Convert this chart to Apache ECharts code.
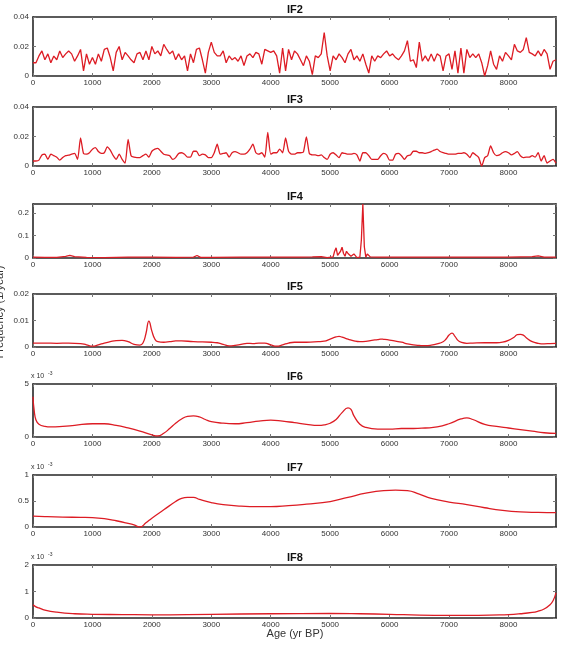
<!DOCTYPE html>
<html>
<head>
<meta charset="utf-8">
<script src="https://cdn.jsdelivr.net/npm/echarts@6/dist/echarts.min.js"></script>
<style>
  html, body { margin: 0; padding: 0; background: #fff; }
  #chart { width: 567px; height: 653px; }
</style>
</head>
<body>
<div id="chart"></div>
<script>
// sample grid of IF2 / IF3 (every 50 yr, 0..8800)
const ages50 = Array.from({ length: 177 }, (_, i) => i * 50);

const xTicks = [0, 1000, 2000, 3000, 4000, 5000, 6000, 7000, 8000];

// IF2 - noisy high frequency component
const if2Values = [
  0.009, 0.009, 0.0136, 0.017, 0.011, 0.015, 0.009, 0.0135, 0.011, 0.017, 0.0125, 0.015, 0.017, 0.015, 0.010, 0.0136, 0.018, 0.0035, 0.015, 0.008,
  0.0125, 0.008, 0.015, 0.010, 0.018, 0.019, 0.0125, 0.0035, 0.016, 0.020, 0.011, 0.016, 0.0136, 0.011, 0.009, 0.015, 0.016, 0.011, 0.017, 0.011,
  0.020, 0.015, 0.017, 0.0136, 0.0215, 0.018, 0.015, 0.017, 0.011, 0.015, 0.011, 0.0136, 0.0035, 0.015, 0.009, 0.018, 0.019, 0.011, 0.002, 0.016,
  0.023, 0.016, 0.0136, 0.0136, 0.017, 0.009, 0.0136, 0.011, 0.0125, 0.010, 0.0136, 0.007, 0.0136, 0.015, 0.0125, 0.016, 0.015, 0.008, 0.018, 0.017,
  0.016, 0.017, 0.0136, 0.002, 0.019, 0.0035, 0.018, 0.011, 0.017, 0.015, 0.011, 0.007, 0.0136, 0.010, 0.001, 0.0136, 0.0125, 0.015, 0.0295, 0.0136,
  0.0035, 0.0136, 0.011, 0.015, 0.0125, 0.009, 0.015, 0.018, 0.011, 0.0136, 0.010, 0.015, 0.008, 0.002, 0.0136, 0.010, 0.0136, 0.0125, 0.015, 0.017,
  0.0136, 0.015, 0.0125, 0.011, 0.0136, 0.017, 0.024, 0.010, 0.011, 0.0057, 0.023, 0.010, 0.0136, 0.010, 0.015, 0.010, 0.015, 0.0136, 0.0035, 0.0136,
  0.015, 0.0045, 0.017, 0.002, 0.019, 0.002, 0.018, 0.0125, 0.015, 0.0125, 0.015, 0.009, 0.0, 0.007, 0.017, 0.008, 0.0045, 0.0136, 0.010, 0.016,
  0.0136, 0.011, 0.0215, 0.017, 0.016, 0.018, 0.026, 0.016, 0.015, 0.0136, 0.017, 0.0136, 0.018, 0.015, 0.0045, 0.010, 0.011
];

// IF3
const if3Values = [
  0.0034, 0.0034, 0.004, 0.0075, 0.008, 0.0045, 0.008, 0.007, 0.006, 0.004, 0.0057, 0.007, 0.0073, 0.008, 0.0085, 0.0045, 0.019, 0.0085, 0.008, 0.009,
  0.0114, 0.0125, 0.0098, 0.0085, 0.009, 0.013, 0.0107, 0.007, 0.0045, 0.008, 0.0045, 0.002, 0.018, 0.007, 0.006, 0.0057, 0.0057, 0.007, 0.008, 0.006,
  0.010, 0.0114, 0.012, 0.010, 0.008, 0.0075, 0.007, 0.0045, 0.0057, 0.0085, 0.009, 0.008, 0.006, 0.006, 0.010, 0.010, 0.007, 0.008, 0.0075, 0.0057,
  0.0057, 0.009, 0.0148, 0.008, 0.0085, 0.009, 0.006, 0.009, 0.0098, 0.009, 0.008, 0.008, 0.009, 0.0114, 0.0148, 0.009, 0.008, 0.009, 0.006, 0.0227,
  0.008, 0.009, 0.009, 0.0114, 0.009, 0.019, 0.010, 0.008, 0.008, 0.009, 0.009, 0.0095, 0.0198, 0.0085, 0.0075, 0.0075, 0.007, 0.0075, 0.0057, 0.0045,
  0.008, 0.009, 0.0075, 0.0057, 0.009, 0.0085, 0.008, 0.008, 0.0085, 0.0075, 0.0034, 0.009, 0.009, 0.007, 0.0045, 0.0045, 0.0045, 0.007, 0.0085, 0.0075,
  0.004, 0.004, 0.008, 0.0085, 0.007, 0.0045, 0.007, 0.0075, 0.010, 0.010, 0.009, 0.009, 0.0085, 0.009, 0.0098, 0.0107, 0.0114, 0.0098, 0.009, 0.0085,
  0.008, 0.008, 0.008, 0.0085, 0.0085, 0.009, 0.008, 0.0057, 0.009, 0.0075, 0.0057, 0.0, 0.0057, 0.007, 0.0136, 0.009, 0.007, 0.0075, 0.009, 0.0098,
  0.009, 0.0075, 0.0085, 0.0098, 0.007, 0.0057, 0.006, 0.006, 0.007, 0.006, 0.009, 0.0034, 0.007, 0.002, 0.0034, 0.0045, 0.002
];

// IF4 - flat with a burst around 5000-5700 yr
const if4Ages = [
  0, 200, 400, 550, 620, 700, 900, 1200, 1600, 2000, 2400, 2700, 2760, 2820, 3000, 3500, 4000, 4500, 4700, 4850, 4950,
  5050, 5075, 5100, 5125, 5150, 5175, 5200, 5225, 5250, 5275, 5300, 5325, 5350, 5375, 5400, 5425, 5450, 5475, 5500,
  5525, 5550, 5575, 5600, 5625, 5650, 5675, 5700, 5800, 6000, 6500, 7000, 7500, 8000, 8400, 8500, 8600, 8800
];
const if4Values = [
  0.004, 0.003, 0.003, 0.007, 0.012, 0.006, 0.003, 0.002, 0.004, 0.004, 0.003, 0.004, 0.011, 0.003, 0.003, 0.004, 0.004, 0.004, 0.005, 0.006, 0.002,
  0.005, 0.03, 0.045, 0.012, 0.005, 0.03, 0.048, 0.02, 0.008, 0.03, 0.02, 0.028, 0.008, 0.004, 0.018, 0.01, 0.002, 0.003, 0.004,
  0.08, 0.24, 0.05, 0.004, 0.018, 0.02, 0.005, 0.004, 0.004, 0.004, 0.004, 0.004, 0.004, 0.004, 0.006, 0.009, 0.004, 0.004
];

// IF5
const if5Ages = [
  0, 200, 400, 600, 800, 900, 1000, 1100, 1200, 1300, 1400, 1500, 1600, 1700, 1800, 1850, 1900, 1950, 2000, 2050, 2100,
  2200, 2300, 2400, 2500, 2700, 3000, 3100, 3200, 3300, 3400, 3500, 3600, 3700, 3800, 3900, 4000, 4100, 4200, 4300,
  4400, 4600, 4800, 4900, 5000, 5100, 5150, 5200, 5300, 5400, 5500, 5600, 5700, 5800, 5850, 5900, 6000, 6100, 6200,
  6300, 6400, 6500, 6600, 6700, 6800, 6900, 6950, 7000, 7050, 7100, 7150, 7200, 7300, 7400, 7600, 7800, 7900, 8000,
  8100, 8150, 8200, 8250, 8300, 8400, 8500, 8600, 8700, 8800
];
const if5Values = [
  0.0015, 0.0015, 0.0014, 0.0015, 0.0013, 0.0008, 0.0003, 0.0008, 0.0015, 0.002, 0.0024, 0.0025, 0.002, 0.001, 0.0007, 0.0015, 0.005, 0.0098, 0.006, 0.003, 0.002,
  0.0018, 0.002, 0.0023, 0.0023, 0.002, 0.0018, 0.0016, 0.001, 0.0004, 0.0006, 0.001, 0.0014, 0.0013, 0.0015, 0.0015, 0.0008, 0.0003, 0.0008, 0.0015,
  0.0018, 0.0018, 0.002, 0.0022, 0.003, 0.0038, 0.004, 0.0037, 0.003, 0.0023, 0.002, 0.0021, 0.0025, 0.0028, 0.003, 0.0029, 0.0026, 0.0022, 0.0018,
  0.0012, 0.0008, 0.0006, 0.0005, 0.0007, 0.0012, 0.002, 0.003, 0.0045, 0.0052, 0.004, 0.0025, 0.0018, 0.0014, 0.0015, 0.0016, 0.0016, 0.0018, 0.0025,
  0.0038, 0.0047, 0.0048, 0.0045, 0.0035, 0.002, 0.0014, 0.0012, 0.0013, 0.0014
];

// IF6 (x 10^-3)
const if6Ages = [
  0, 20, 50, 100, 200, 300, 500, 700, 1000, 1200, 1400, 1600, 1800, 2000, 2100, 2200, 2300, 2400, 2500, 2600, 2700,
  2800, 2900, 3000, 3200, 3400, 3600, 3800, 4000, 4200, 4400, 4600, 4800, 4900, 5000, 5100, 5200, 5300, 5350, 5400,
  5500, 5600, 5800, 6000, 6200, 6400, 6600, 6800, 7000, 7200, 7300, 7400, 7600, 7800, 8000, 8200, 8400, 8600, 8800
];
const if6Values = [
  3.8, 2.5, 1.6, 1.2, 1.0, 0.95, 1.0, 1.1, 1.25, 1.25, 1.1, 0.85, 0.55, 0.2, 0.1, 0.35, 0.8, 1.3, 1.7, 1.95, 2.0,
  1.9, 1.65, 1.45, 1.3, 1.25, 1.35, 1.5, 1.6, 1.5, 1.35, 1.2, 1.1, 1.15, 1.3, 1.65, 2.3, 2.75, 2.6, 2.0,
  1.2, 0.9, 0.75, 0.75, 0.8, 0.8, 0.85, 0.95, 1.25, 1.7, 1.8, 1.65, 1.2, 1.0, 0.85, 0.7, 0.55, 0.4, 0.35
];

// IF7 (x 10^-3)
const if7Ages = [
  0, 200, 500, 800, 1000, 1200, 1400, 1600, 1700, 1800, 1900, 2000, 2200, 2400, 2500, 2600, 2700, 2800, 3000, 3200,
  3500, 3800, 4000, 4300, 4600, 5000, 5300, 5600, 5900, 6100, 6300, 6500, 6700, 7000, 7300, 7600, 7900, 8200, 8500, 8800
];
const if7Values = [
  0.21, 0.2, 0.19, 0.185, 0.18, 0.16, 0.12, 0.07, 0.04, 0.0, 0.08, 0.17, 0.33, 0.49, 0.55, 0.57, 0.57, 0.53, 0.47, 0.43,
  0.4, 0.39, 0.39, 0.41, 0.44, 0.49, 0.57, 0.65, 0.7, 0.71, 0.7, 0.63, 0.55, 0.48, 0.43, 0.37, 0.32, 0.29, 0.28, 0.275
];

// IF8 (x 10^-3)
const if8Ages = [
  0, 50, 100, 200, 400, 700, 1000, 1500, 2000, 3000, 4000, 5000, 5500, 6000, 6500, 7000, 7500, 8000, 8200, 8400,
  8500, 8600, 8700, 8750, 8800
];
const if8Values = [
  0.5, 0.42, 0.38, 0.3, 0.22, 0.16, 0.14, 0.13, 0.12, 0.14, 0.16, 0.17, 0.16, 0.14, 0.11, 0.1, 0.1, 0.13, 0.16, 0.21,
  0.26, 0.34, 0.5, 0.65, 0.95
];

const lineColor = '#dd1c24';
const frameColor = '#262626';
const labelFont = 'Liberation Sans';

const panels = [
  { title: 'IF2', ages: ages50, values: if2Values, top: 17, height: 59, max: 0.04, interval: 0.02, smooth: false },
  { title: 'IF3', ages: ages50, values: if3Values, top: 107, height: 59, max: 0.04, interval: 0.02, smooth: 0.2 },
  { title: 'IF4', ages: if4Ages, values: if4Values, top: 204, height: 54, max: 0.24, interval: 0.1, smooth: false, hideMax: true },
  { title: 'IF5', ages: if5Ages, values: if5Values, top: 294, height: 53, max: 0.02, interval: 0.01, smooth: 0.5 },
  { title: 'IF6', ages: if6Ages, values: if6Values, top: 384, height: 53, max: 5, interval: 5, smooth: 0.5, scaled: true },
  { title: 'IF7', ages: if7Ages, values: if7Values, top: 475, height: 52, max: 1, interval: 0.5, smooth: 0.5, scaled: true },
  { title: 'IF8', ages: if8Ages, values: if8Values, top: 565, height: 53, max: 2, interval: 1, smooth: 0.5, scaled: true }
];

const grids = [], xAxes = [], yAxes = [], series = [], titles = [], graphics = [];

panels.forEach((p, i) => {
  grids.push({ left: 33, right: 11, top: p.top, height: p.height });

  const frame = { show: true, onZero: false, lineStyle: { color: frameColor, width: 1.6 } };
  const tick = { show: true, inside: true, length: 3, lineStyle: { color: '#777', width: 1 } };

  // bottom + top x axes (top one only for the box and mirrored ticks)
  xAxes.push({
    gridIndex: i, type: 'value', min: 0, max: 8800, interval: 1000, position: 'bottom',
    axisLine: frame, axisTick: tick, splitLine: { show: false },
    axisLabel: { fontSize: 8, color: '#333', margin: 3, fontFamily: labelFont, showMaxLabel: false,
      formatter: v => (xTicks.indexOf(v) >= 0 ? String(v) : '') }
  });
  xAxes.push({
    gridIndex: i, type: 'value', min: 0, max: 8800, interval: 1000, position: 'top',
    axisLine: frame, axisTick: tick, splitLine: { show: false }, axisLabel: { show: false }
  });

  yAxes.push({
    gridIndex: i, type: 'value', min: 0, max: p.max, interval: p.interval, position: 'left',
    axisLine: frame, axisTick: tick, splitLine: { show: false },
    axisLabel: { fontSize: 8, color: '#333', margin: 4, fontFamily: labelFont, showMaxLabel: !p.hideMax }
  });
  yAxes.push({
    gridIndex: i, type: 'value', min: 0, max: p.max, interval: p.interval, position: 'right',
    axisLine: frame, axisTick: tick, splitLine: { show: false }, axisLabel: { show: false }
  });

  series.push({
    type: 'line',
    xAxisIndex: i * 2,
    yAxisIndex: i * 2,
    data: p.ages.map((a, k) => [a, p.values[k]]),
    showSymbol: false,
    smooth: p.smooth,
    lineStyle: { color: lineColor, width: 1.3 },
    animation: false
  });

  titles.push({
    text: p.title,
    left: 295,
    top: p.top - 13,
    textAlign: 'center',
    padding: 0,
    textStyle: { fontSize: 11, fontWeight: 'bold', color: '#111', fontFamily: labelFont }
  });

  // "x 10^-3" multiplier above the y axis
  if (p.scaled) {
    graphics.push({
      type: 'text', left: 31, top: p.top - 11,
      style: { text: 'x 10', fontSize: 7, fill: '#333', fontFamily: labelFont }
    });
    graphics.push({
      type: 'text', left: 48, top: p.top - 13,
      style: { text: '-3', fontSize: 5, fill: '#333', fontFamily: labelFont }
    });
  }
});

// shared axis captions (y caption is half cut by the left edge, as in the source)
graphics.push({
  type: 'text', x: 0, y: 312, rotation: Math.PI / 2,
  style: { text: 'Frequency (1/year)', fontSize: 11, fill: '#333', fontFamily: labelFont, align: 'center', verticalAlign: 'middle' }
});
graphics.push({
  type: 'text', x: 295, y: 634,
  style: { text: 'Age (yr BP)', fontSize: 11, fill: '#333', fontFamily: labelFont, align: 'center', verticalAlign: 'middle' }
});

const chart = echarts.init(document.getElementById('chart'), null, { renderer: 'canvas' });
chart.setOption({
  backgroundColor: '#fff',
  animation: false,
  title: titles,
  grid: grids,
  xAxis: xAxes,
  yAxis: yAxes,
  series: series,
  graphic: graphics
});
</script>
</body>
</html>
